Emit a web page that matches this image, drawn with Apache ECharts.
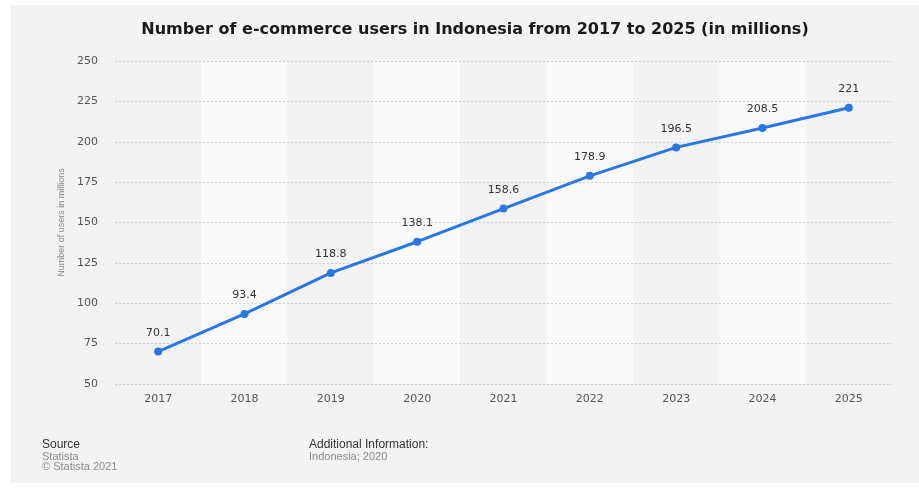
<!DOCTYPE html>
<html>
<head>
<meta charset="utf-8">
<script src="https://cdn.jsdelivr.net/npm/echarts@6/dist/echarts.min.js"></script>
<style>
  html, body { margin: 0; padding: 0; background: #ffffff; }
  #chart { width: 919px; height: 493px; }
</style>
</head>
<body>
<div id="chart"></div>
<script>
// E-commerce users in Indonesia, millions
const years = ['2017', '2018', '2019', '2020', '2021', '2022', '2023', '2024', '2025'];
const users = [70.1, 93.4, 118.8, 138.1, 158.6, 178.9, 196.5, 208.5, 221];
const yTicks = [50, 75, 100, 125, 150, 175, 200, 225, 250];

const labelFont = '"DejaVu Sans", Verdana, sans-serif';
const footFont = '"Liberation Sans", Arial, sans-serif';

const chart = echarts.init(document.getElementById('chart'), null, { renderer: 'canvas' });

chart.setOption({
  animation: false,
  backgroundColor: '#ffffff',
  graphic: [
    { type: 'rect', z: -10, shape: { x: 11, y: 5, width: 908, height: 478 }, style: { fill: '#f3f3f3' } },
    { type: 'text', left: 42, top: 439, style: { text: 'Source', fill: '#333', font: '12px ' + footFont } },
    { type: 'text', left: 42, top: 451, style: { text: 'Statista', fill: '#8a8a8a', font: '11px ' + footFont } },
    { type: 'text', left: 42, top: 461, style: { text: '© Statista 2021', fill: '#8a8a8a', font: '11px ' + footFont } },
    { type: 'text', left: 309, top: 439, style: { text: 'Additional Information:', fill: '#333', font: '12px ' + footFont } },
    { type: 'text', left: 309, top: 451, style: { text: 'Indonesia; 2020', fill: '#8a8a8a', font: '11px ' + footFont } }
  ],
  title: {
    text: 'Number of e-commerce users in Indonesia from 2017 to 2025 (in millions)',
    left: 470,
    textAlign: 'center',
    top: 17,
    textStyle: { fontFamily: labelFont, fontSize: 16, fontWeight: 'bold', color: '#1a1a1a' }
  },
  grid: { left: 115, right: 27, top: 61, bottom: 109, containLabel: false },
  xAxis: {
    type: 'category',
    data: years,
    boundaryGap: true,
    z: 0,
    axisLine: { show: false },
    axisTick: { show: false },
    axisLabel: { color: '#555', fontSize: 11, margin: 10, fontFamily: labelFont },
    splitLine: { show: false },
    splitArea: { show: true, areaStyle: { color: ['#f3f3f3', '#fafafa'] } }
  },
  yAxis: {
    type: 'value',
    z: 2,
    min: yTicks[0],
    max: yTicks[yTicks.length - 1],
    interval: 25,
    name: 'Number of users in millions',
    nameLocation: 'middle',
    nameGap: 49,
    nameRotate: 90,
    nameTextStyle: { color: '#888', fontSize: 9, fontFamily: footFont },
    axisLine: { show: false },
    axisTick: { show: false },
    axisLabel: { color: '#555', fontSize: 11, margin: 17, fontFamily: labelFont },
    splitLine: { show: true, lineStyle: { color: '#d0d0d0', type: [2, 2], width: 1 } }
  },
  series: [{
    type: 'line',
    data: users,
    symbol: 'circle',
    symbolSize: 8,
    z: 5,
    lineStyle: { color: '#2a76e2', width: 3 },
    itemStyle: { color: '#2a76e2' },
    label: {
      show: true,
      position: 'top',
      distance: 9,
      color: '#333',
      fontSize: 11,
      fontFamily: labelFont
    }
  }]
});
</script>
</body>
</html>
